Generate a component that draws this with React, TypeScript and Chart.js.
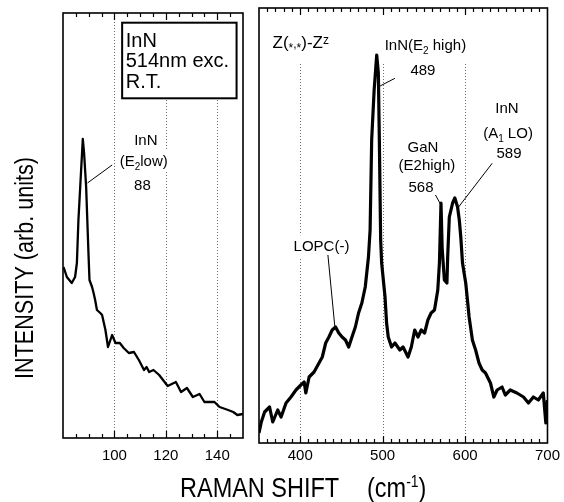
import React, { useEffect, useRef } from "react";
import { Chart, registerables } from "chart.js";

Chart.register(...registerables);

const W = 564;
const H = 502;
const FONT = '"Liberation Sans", Arial, Helvetica, sans-serif';

// ---- Left panel (low-frequency region) ----
const leftShift = [80.2, 81.5, 83.4, 84.7, 85.4, 86.0, 87.7, 88.2, 89.0, 89.9, 90.3, 91.3, 91.9, 92.5, 93.2, 94.5, 95.2, 96.5, 97.5, 99.1, 100.4, 102.1, 103.6, 105.6, 107.6, 109.5, 111.5, 112.5, 113.5, 115.2, 117.4, 120.7, 123.9, 125.9, 128.2, 130.5, 133.1, 135.0, 138.9, 140.9, 144.2, 146.2, 147.8, 150];
const leftIntensity = [171, 161, 155, 161, 175, 218, 299, 285, 251, 185, 158, 151, 145, 138, 128, 125, 123, 108, 91, 103, 95, 95, 90, 85, 86, 78, 68, 71, 66, 68, 63, 52, 56, 46, 50, 41, 44, 36, 36, 31, 28, 26, 23, 24];
const leftTickLabels = [100, 120, 140];

// ---- Right panel (optical phonon region) ----
const rightShift = [350, 352.8, 356.8, 362.8, 366.7, 372.7, 376.8, 382.8, 388.8, 394.8, 400.8, 404.8, 406.8, 410.8, 416.8, 422.8, 426.8, 430.9, 434.8, 438.8, 442.9, 446.8, 450.8, 454.9, 458.8, 462.8, 466.9, 470.8, 474.8, 478.9, 482.8, 484.8, 486.7, 489.7, 492.8, 494.8, 496.0, 497.6, 498.8, 502.9, 504.8, 506.8, 510.8, 514.9, 520.9, 524.8, 530.8, 534.8, 538.9, 542.9, 546.8, 550.9, 554.9, 558.8, 562.9, 566.9, 568.9, 570.8, 572.2, 574.9, 578.0, 578.9, 580.9, 584.9, 587.6, 590.9, 593.0, 594.8, 596.9, 600.8, 602.9, 604.9, 608.9, 612.8, 616.9, 620.8, 624.8, 630.8, 634.9, 638.9, 644.9, 648.8, 654.8, 662.9, 670.9, 676.9, 682.9, 688.9, 694.9, 698.0, 700];
const rightIntensity = [10, 21, 31, 36, 21, 33, 26, 40, 46, 53, 58, 61, 50, 66, 71, 80, 86, 100, 106, 113, 116, 110, 106, 103, 96, 106, 116, 130, 140, 156, 186, 213, 303, 353, 388, 370, 303, 203, 180, 146, 120, 106, 96, 100, 93, 96, 86, 96, 113, 106, 113, 110, 123, 130, 133, 153, 180, 240, 195, 163, 160, 186, 226, 240, 245, 236, 223, 206, 180, 160, 143, 126, 103, 93, 80, 73, 70, 60, 46, 53, 56, 48, 53, 50, 46, 40, 46, 43, 50, 20, 43];
const rightTickLabels = [400, 500, 600, 700];

type Seg = { t: string; sub?: boolean; sup?: boolean; small?: boolean; dy?: number };
type Label = { segs: Seg[]; x: number; y: number; align?: "left" | "center"; size?: number };
type Leader = { x1: number; y1: number; x2: number; y2: number };

const leftLabels: Label[] = [
  { segs: [{ t: "InN" }], x: 112.2, y: 293 },
  { segs: [{ t: "(E" }, { t: "2", sub: true }, { t: "low)" }], x: 111.4, y: 272 },
  { segs: [{ t: "88" }], x: 110.9, y: 248 },
];
const leftLeaders: Leader[] = [{ x1: 99.1, y1: 273, x2: 89.5, y2: 255 }];

const rightLabels: Label[] = [
  { segs: [{ t: "Z(" }, { t: "*", small: true, dy: 0.22 }, { t: ",", small: true }, { t: "*", small: true, dy: 0.22 }, { t: ")-Z" }, { t: "z", small: true, dy: -0.25 }], x: 366.4, y: 395, align: "left", size: 17 },
  { segs: [{ t: "InN(E" }, { t: "2", sub: true }, { t: " high)" }], x: 551.9, y: 393 },
  { segs: [{ t: "489" }], x: 548.9, y: 368 },
  { segs: [{ t: "GaN" }], x: 548.9, y: 291 },
  { segs: [{ t: "(E2high)" }], x: 553.7, y: 273 },
  { segs: [{ t: "568" }], x: 546.5, y: 251 },
  { segs: [{ t: "InN" }], x: 650.9, y: 330 },
  { segs: [{ t: "(A" }, { t: "1", sub: true }, { t: " LO)" }], x: 652.1, y: 305 },
  { segs: [{ t: "589" }], x: 653.3, y: 285 },
  { segs: [{ t: "LOPC(-)" }], x: 425.8, y: 192 },
];
const rightLeaders: Leader[] = [
  { x1: 496.9, y1: 357, x2: 514.9, y2: 364.7 },
  { x1: 564.1, y1: 248, x2: 570.8, y2: 238 },
  { x1: 632.9, y1: 279.7, x2: 590.9, y2: 234.7 },
  { x1: 433.6, y1: 188, x2: 442, y2: 116.3 },
];

const sampleBoxLines = ["InN", "514nm exc.", "R.T."];

type Panel = {
  id: string;
  xs: number[];
  ys: number[];
  xMin: number;
  xMax: number;
  yMax: number;
  tickLabels: number[];
  minorStep: number;
  majorStep: number;
  area: { left: number; top: number; right: number; bottom: number };
  tickPad: number;
  lineWidth: number;
  labels: Label[];
  leaders: Leader[];
  labelSize: number;
  gridTopGap: number;
  box?: { x1: number; x2: number; y1: number; y2: number; textX: number; baselines: number[]; size: number };
  titles?: boolean;
};

function segSize(s: Seg, size: number) {
  return s.sub || s.sup || s.small ? Math.round(size * 0.68) : size;
}
function richWidth(ctx: CanvasRenderingContext2D, segs: Seg[], size: number) {
  let w = 0;
  for (const s of segs) {
    ctx.font = `${segSize(s, size)}px ${FONT}`;
    w += ctx.measureText(s.t).width;
  }
  return w;
}
function drawRich(ctx: CanvasRenderingContext2D, segs: Seg[], x: number, y: number, size: number, align?: string) {
  const w = richWidth(ctx, segs, size);
  let cx = align === "left" ? x : x - w / 2;
  ctx.textAlign = "left";
  ctx.textBaseline = "alphabetic";
  for (const s of segs) {
    ctx.font = `${segSize(s, size)}px ${FONT}`;
    const dy = s.sub ? size * 0.28 : s.sup ? -size * 0.42 : (s.dy ?? 0) * size;
    ctx.fillText(s.t, cx, y + dy);
    cx += ctx.measureText(s.t).width;
  }
}

function makePlugin(p: Panel) {
  return {
    id: "decor_" + p.id,
    beforeDatasetsDraw(chart: any) {
      const { ctx, chartArea: a } = chart;
      const xs = chart.scales.x;
      const ys = chart.scales.y;
      ctx.save();
      ctx.strokeStyle = "#707070";
      ctx.lineWidth = 1;
      ctx.setLineDash([1, 2]);
      for (const v of p.tickLabels) {
        if (v <= p.xMin || v >= p.xMax) continue;
        const px = Math.round(xs.getPixelForValue(v)) + 0.5;
        ctx.beginPath();
        ctx.moveTo(px, a.top + p.gridTopGap);
        ctx.lineTo(px, a.bottom);
        ctx.stroke();
      }
      ctx.setLineDash([]);
      ctx.fillStyle = "#fff";
      for (const l of p.labels) {
        const size = l.size ?? p.labelSize;
        const w = richWidth(ctx, l.segs, size);
        const ax = xs.getPixelForValue(l.x);
        const by = ys.getPixelForValue(l.y);
        const x0 = l.align === "left" ? ax : ax - w / 2;
        ctx.fillRect(x0 - 3, by - size * 1.05, w + 6, size * 1.45);
      }
      if (p.box) {
        const b = p.box;
        const x1 = xs.getPixelForValue(b.x1);
        const x2 = xs.getPixelForValue(b.x2);
        const y1 = ys.getPixelForValue(b.y2);
        const y2 = ys.getPixelForValue(b.y1);
        ctx.fillRect(x1, y1, x2 - x1, y2 - y1);
      }
      ctx.restore();
    },
    afterDatasetsDraw(chart: any) {
      const { ctx, chartArea: a } = chart;
      const xs = chart.scales.x;
      const ys = chart.scales.y;
      ctx.save();
      ctx.strokeStyle = "#000";
      ctx.lineWidth = 1.6;
      ctx.strokeRect(a.left, a.top, a.right - a.left, a.bottom - a.top);
      ctx.lineWidth = 1.2;
      const start = Math.ceil(p.xMin / p.minorStep) * p.minorStep;
      for (let v = start; v <= p.xMax + 1e-6; v += p.minorStep) {
        if (Math.abs(v - p.xMin) < 1e-6 || Math.abs(v - p.xMax) < 1e-6) continue;
        const px = Math.round(xs.getPixelForValue(v)) + 0.5;
        const major = Math.abs(v / p.majorStep - Math.round(v / p.majorStep)) < 1e-6;
        const len = major ? 7 : 4;
        ctx.beginPath();
        ctx.moveTo(px, a.bottom);
        ctx.lineTo(px, a.bottom - len);
        ctx.moveTo(px, a.top);
        ctx.lineTo(px, a.top + len);
        ctx.stroke();
      }
      ctx.lineWidth = 1;
      for (const l of p.leaders) {
        ctx.beginPath();
        ctx.moveTo(xs.getPixelForValue(l.x1), ys.getPixelForValue(l.y1));
        ctx.lineTo(xs.getPixelForValue(l.x2), ys.getPixelForValue(l.y2));
        ctx.stroke();
      }
      ctx.fillStyle = "#000";
      for (const l of p.labels) {
        drawRich(ctx, l.segs, xs.getPixelForValue(l.x), ys.getPixelForValue(l.y), l.size ?? p.labelSize, l.align);
      }
      if (p.box) {
        const b = p.box;
        const x1 = xs.getPixelForValue(b.x1);
        const x2 = xs.getPixelForValue(b.x2);
        const y1 = ys.getPixelForValue(b.y2);
        const y2 = ys.getPixelForValue(b.y1);
        ctx.lineWidth = 2;
        ctx.strokeRect(x1, y1, x2 - x1, y2 - y1);
        ctx.font = `${b.size}px ${FONT}`;
        ctx.textAlign = "left";
        ctx.textBaseline = "alphabetic";
        sampleBoxLines.forEach((t, i) => {
          ctx.fillText(t, xs.getPixelForValue(b.textX), ys.getPixelForValue(b.baselines[i]));
        });
      }
      ctx.restore();
    },
    afterDraw(chart: any) {
      if (!p.titles) return;
      const { ctx } = chart;
      ctx.save();
      ctx.fillStyle = "#000";
      ctx.textBaseline = "alphabetic";
      ctx.save();
      ctx.translate(33, 268);
      ctx.rotate(-Math.PI / 2);
      ctx.scale(0.83, 1);
      ctx.font = `26px ${FONT}`;
      ctx.textAlign = "center";
      ctx.fillText("INTENSITY (arb. units)", 0, 0);
      ctx.restore();
      const sx = 0.87;
      const drawScaled = (t: string, x: number, y: number, size: number) => {
        ctx.save();
        ctx.translate(x, y);
        ctx.scale(sx, 1);
        ctx.font = `${size}px ${FONT}`;
        ctx.textAlign = "left";
        ctx.fillText(t, 0, 0);
        const w = ctx.measureText(t).width * sx;
        ctx.restore();
        return w;
      };
      drawScaled("RAMAN SHIFT", 180, 497, 27);
      let cx = 367;
      cx += drawScaled("(cm", cx, 497, 27);
      cx += drawScaled("-1", cx, 487, 16);
      drawScaled(")", cx, 497, 27);
      ctx.restore();
    },
  };
}

function panelConfig(p: Panel): any {
  return {
    type: "line",
    data: {
      datasets: [
        {
          data: p.xs.map((x, i) => ({ x, y: p.ys[i] })),
          borderColor: "#000",
          borderWidth: p.lineWidth,
          borderJoinStyle: "round",
          pointRadius: 0,
          tension: 0,
          fill: false,
        },
      ],
    },
    options: {
      responsive: false,
      animation: false,
      events: [],
      layout: { padding: { left: p.area.left, top: p.area.top, right: W - p.area.right, bottom: 0 } },
      plugins: { legend: { display: false }, tooltip: { enabled: false }, title: { display: false } },
      scales: {
        x: {
          type: "linear",
          min: p.xMin,
          max: p.xMax,
          afterBuildTicks: (s: any) => {
            s.ticks = p.tickLabels.map((v) => ({ value: v }));
          },
          afterFit: (s: any) => {
            s.height = H - p.area.bottom;
          },
          grid: { display: false, drawTicks: false },
          border: { display: false },
          ticks: {
            color: "#000",
            font: { family: FONT, size: 15 },
            padding: p.tickPad,
            maxRotation: 0,
            autoSkip: false,
          },
        },
        y: { type: "linear", display: false, min: 0, max: p.yMax },
      },
    },
    plugins: [makePlugin(p)],
  };
}

const leftPanel: Panel = {
  id: "left",
  xs: leftShift,
  ys: leftIntensity,
  xMin: 80,
  xMax: 150,
  yMax: 425,
  tickLabels: leftTickLabels,
  minorStep: 5,
  majorStep: 20,
  area: { left: 63, top: 13, right: 243, bottom: 438 },
  tickPad: 9,
  lineWidth: 2.3,
  labels: leftLabels,
  leaders: leftLeaders,
  labelSize: 15,
  gridTopGap: 0,
  box: { x1: 103.0, x2: 147.5, y1: 339.7, y2: 415.3, textX: 104.4, baselines: [391.3, 371.3, 350], size: 20 },
};

const rightPanel: Panel = {
  id: "right",
  xs: rightShift,
  ys: rightIntensity,
  xMin: 350,
  xMax: 700,
  yMax: 435,
  tickLabels: rightTickLabels,
  minorStep: 10,
  majorStep: 100,
  area: { left: 259, top: 8, right: 552, bottom: 443 },
  tickPad: 4,
  lineWidth: 3.2,
  labels: rightLabels,
  leaders: rightLeaders,
  labelSize: 15,
  gridTopGap: 56,
  titles: true,
};

export default function App() {
  const leftRef = useRef<HTMLCanvasElement>(null);
  const rightRef = useRef<HTMLCanvasElement>(null);
  useEffect(() => {
    const right = new Chart(rightRef.current as HTMLCanvasElement, panelConfig(rightPanel));
    const left = new Chart(leftRef.current as HTMLCanvasElement, panelConfig(leftPanel));
    return () => {
      left.destroy();
      right.destroy();
    };
  }, []);
  const cs: React.CSSProperties = { position: "absolute", left: 0, top: 0, width: W, height: H };
  return (
    <div style={{ position: "fixed", left: 0, top: 0, width: W, height: H, background: "#fff" }}>
      <canvas ref={rightRef} width={W} height={H} style={cs} />
      <canvas ref={leftRef} width={W} height={H} style={cs} />
    </div>
  );
}
